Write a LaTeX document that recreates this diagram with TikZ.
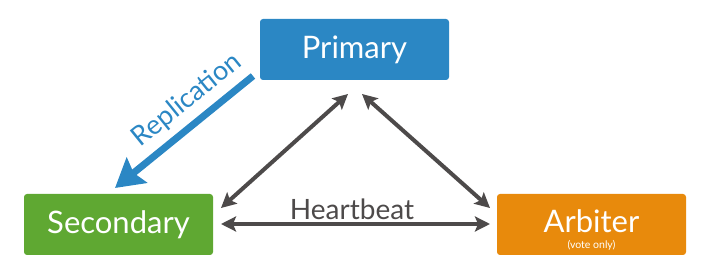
\documentclass[tikz,border=0pt]{standalone}
\usepackage{fontspec}
\setmainfont{Lato}
\usetikzlibrary{arrows.meta}
\definecolor{pblue}{HTML}{2B87C4}
\definecolor{sgreen}{HTML}{5FA832}
\definecolor{aorange}{HTML}{E88A0C}
\definecolor{agray}{HTML}{4D4A4A}
\tikzset{
  rolebox/.style={rectangle, rounded corners=3pt, minimum width=189pt, minimum height=61pt, inner sep=0pt, text=white, font=\fontsize{31}{31}\selectfont},
  hb/.style={agray, line width=4pt, {Stealth[length=15pt,width=15pt,inset=3pt]}-{Stealth[length=15pt,width=15pt,inset=3pt]}},
  rep/.style={pblue, line width=7pt, -{Stealth[length=28pt,width=32pt,inset=4pt]}}
}
\begin{document}
\begin{tikzpicture}[x=1pt,y=-1pt]
\useasboundingbox (0,0) rectangle (716,280);
\node[rolebox, fill=pblue] (pri) at (354.5,49.5) {Primary};
\node[rolebox, fill=sgreen] (sec) at (118.5,224.5) {Secondary};
\node[rolebox, fill=aorange] (arb) at (591.5,224.5) {};
\node[text=white, font=\fontsize{31}{31}\selectfont, anchor=base] (arbt) at (591.5,233) {Arbiter};
\node[text=white, font=\fontsize{10.5}{10.5}\selectfont, anchor=base] (arbv) at (591.5,249) {(vote only)};
\coordinate (p1) at (348,94);
\coordinate (p2) at (362,94);
\coordinate (s1) at (221,208);
\coordinate (s2) at (221,224);
\coordinate (a1) at (490,208);
\coordinate (a2) at (490,224);
\draw[hb] (p1) -- (s1);
\draw[hb] (p2) -- (a1);
\draw[hb] (s2) -- (a2);
\node[text=agray, font=\fontsize{28}{28}\selectfont, anchor=base] (hbt) at (352,220) {Heartbeat};
\coordinate (r1) at (253,76);
\coordinate (r2) at (115,188);
\draw[rep] (r1) -- (r2);
\node[text=pblue, font=\fontsize{27}{27}\selectfont, rotate=39] (rept) at (187,100) {Replication};
\end{tikzpicture}
\end{document}
